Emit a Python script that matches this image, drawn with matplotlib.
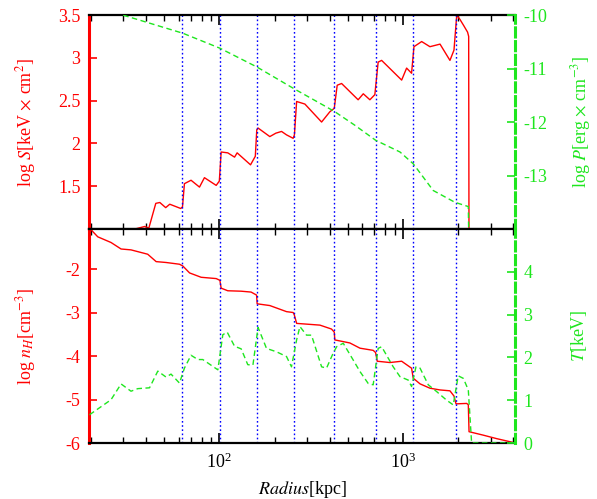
# libraries
import matplotlib
matplotlib.use('Agg')
import matplotlib.pyplot as plt
import numpy as np
from matplotlib.ticker import LogLocator, NullFormatter, LogFormatterMathtext

plt.rcParams['font.family'] = 'serif'
plt.rcParams['font.serif'] = ['Liberation Serif', 'DejaVu Serif']
plt.rcParams['mathtext.fontset'] = 'stix'
plt.rcParams['axes.unicode_minus'] = False

red = '#ff0000'
green = '#1ee61e'
blue = '#0000ff'

# shock positions (kpc)
shock_r = [63, 101, 160, 256, 422, 710, 1130, 1935]

# entropy profile: log10(radius/kpc), log S
s_logr = [1.469, 1.540, 1.594, 1.616, 1.654, 1.676, 1.708, 1.730, 1.790, 1.7995,
          1.810, 1.846, 1.892, 1.919, 1.983, 2.000, 2.010, 2.046, 2.083, 2.097,
          2.170, 2.196, 2.204, 2.211, 2.275, 2.308, 2.339, 2.366, 2.402, 2.409,
          2.421, 2.466, 2.557, 2.602, 2.626, 2.642, 2.666, 2.756, 2.784, 2.820,
          2.847, 2.865, 2.884, 2.993, 3.020, 3.047, 3.060, 3.102, 3.147, 3.202,
          3.256, 3.278, 3.293, 3.310, 3.330, 3.352, 3.358, 3.360]
s_val = [0.99, 1.00, 1.03, 1.01, 1.30, 1.31, 1.25, 1.29, 1.24, 1.26,
         1.53, 1.57, 1.49, 1.60, 1.51, 1.56, 1.90, 1.89, 1.84, 1.89,
         1.75, 1.85, 2.16, 2.18, 2.08, 2.12, 2.14, 2.10, 2.06, 2.10,
         2.49, 2.46, 2.25, 2.37, 2.41, 2.68, 2.70, 2.51, 2.58, 2.51,
         2.57, 2.95, 2.97, 2.74, 2.88, 2.82, 3.13, 3.19, 3.13, 3.16,
         2.97, 3.09, 3.50, 3.45, 3.38, 3.30, 3.25, 0.50]

# pressure profile: log10(radius/kpc), log P
p_logr = [1.289, 1.474, 1.801, 2.003, 2.204, 2.408, 2.626, 2.738, 2.851, 2.984,
          3.056, 3.165, 3.283, 3.356, 3.360]
p_val = [-9.8, -10.0, -10.34, -10.62, -10.97, -11.38, -11.80, -12.06, -12.34, -12.56,
         -12.78, -13.28, -13.50, -13.58, -14.5]

# density profile: log10(radius/kpc), log n_H
n_logr = [1.293, 1.338, 1.410, 1.465, 1.519, 1.610, 1.656, 1.710, 1.783, 1.801,
          1.838, 1.901, 1.983, 2.003, 2.010, 2.046, 2.119, 2.173, 2.203, 2.206,
          2.275, 2.366, 2.402, 2.408, 2.421, 2.548, 2.611, 2.626, 2.629, 2.711,
          2.766, 2.838, 2.851, 2.860, 2.929, 2.993, 3.047, 3.056, 3.093, 3.147,
          3.202, 3.256, 3.278, 3.289, 3.347, 3.356, 3.360, 3.438, 3.511, 3.583,
          3.610]
n_val = [-1.06, -1.26, -1.39, -1.54, -1.56, -1.66, -1.83, -1.85, -1.89, -1.93,
         -2.09, -2.19, -2.22, -2.26, -2.44, -2.50, -2.51, -2.53, -2.60, -2.80,
         -2.84, -2.98, -3.00, -3.05, -3.25, -3.29, -3.38, -3.45, -3.63, -3.70,
         -3.82, -3.87, -3.92, -4.12, -4.15, -4.12, -4.28, -4.51, -4.64, -4.74,
         -4.78, -4.80, -4.92, -5.10, -5.09, -5.12, -5.74, -5.82, -5.90, -5.97,
         -6.0]

# temperature profile: log10(radius/kpc), T [keV]
t_logr = [1.293, 1.410, 1.465, 1.519, 1.556, 1.620, 1.665, 1.710, 1.737, 1.783,
          1.810, 1.846, 1.883, 1.910, 1.992, 2.019, 2.043, 2.083, 2.119, 2.155,
          2.183, 2.211, 2.257, 2.312, 2.366, 2.393, 2.421, 2.439, 2.475, 2.502,
          2.557, 2.584, 2.620, 2.639, 2.675, 2.729, 2.766, 2.811, 2.838, 2.865,
          2.884, 2.947, 2.984, 3.029, 3.047, 3.071, 3.093, 3.138, 3.184, 3.238,
          3.274, 3.301, 3.329, 3.356, 3.374, 3.610]
t_val = [0.66, 1.01, 1.38, 1.21, 1.27, 1.29, 1.68, 1.54, 1.61, 1.40,
         1.75, 2.05, 1.95, 1.95, 1.71, 2.53, 2.59, 2.26, 2.20, 1.83,
         1.82, 2.70, 2.21, 2.13, 2.02, 1.78, 2.41, 2.72, 2.52, 2.52,
         1.78, 1.75, 2.10, 2.25, 2.33, 1.94, 1.67, 1.39, 1.36, 2.21,
         2.25, 1.78, 1.55, 1.47, 1.32, 1.78, 1.75, 1.36, 1.20, 1.00,
         0.89, 1.57, 1.51, 1.24, 0.0, 0.0]

xmin, xmax = 19.5, 4075

fig = plt.figure(figsize=(5.97, 4.99), dpi=100)
ax1 = fig.add_axes([0.149, 0.541, 0.7136, 0.4289])
ax3 = fig.add_axes([0.149, 0.1122, 0.7136, 0.4289])
ax2 = ax1.twinx()
ax4 = ax3.twinx()

# top panel
ax1.plot(10 ** np.array(s_logr), s_val, color=red, lw=1.0)
ax2.plot(10 ** np.array(p_logr), p_val, color=green, lw=1.0, ls=(0, (4, 2.5)))
# bottom panel
ax3.plot(10 ** np.array(n_logr), n_val, color=red, lw=1.0)
ax4.plot(10 ** np.array(t_logr), t_val, color=green, lw=1.0, ls=(0, (4, 2.5)))

for ax in (ax1, ax3):
    for r in shock_r:
        ax.axvline(r, color=blue, lw=1.0, ls=(0, (1.2, 1.8)))

ax1.set_ylim(1.0, 3.5)
ax2.set_ylim(-14, -10)
ax3.set_ylim(-6, -1.08)
ax4.set_ylim(0, 5)
for ax in (ax1, ax2, ax3, ax4):
    ax.set_xscale('log')
    ax.set_xlim(xmin, xmax)

ax1.set_yticks([1.5, 2, 2.5, 3, 3.5])
ax1.set_yticklabels(['1.5', '2', '2.5', '3', '3.5'])
ax2.set_yticks([-10, -11, -12, -13])
ax2.set_yticklabels(['-10', '-11', '-12', '-13'])
ax3.set_yticks([-2, -3, -4, -5, -6])
ax3.set_yticklabels(['-2', '-3', '-4', '-5', '-6'])
ax4.set_yticks([0, 1, 2, 3, 4])
ax4.set_yticklabels(['0', '1', '2', '3', '4'])

for ax in (ax1, ax3):
    ax.xaxis.set_major_locator(LogLocator(base=10))
    ax.xaxis.set_minor_locator(LogLocator(base=10, subs=np.arange(2, 10)))
    ax.xaxis.set_minor_formatter(NullFormatter())
    ax.tick_params(axis='x', which='major', direction='in', top=True, bottom=True,
                   length=7, width=1.2, labelsize=13, pad=7)
    ax.tick_params(axis='x', which='minor', direction='in', top=True, bottom=True,
                   length=4.5, width=1.0)
    ax.tick_params(axis='y', direction='in', colors=red, length=6, width=1.2,
                   labelsize=13, pad=6)
    ax.spines['left'].set_color(red)
    ax.spines['left'].set_linewidth(2.2)
    ax.spines['top'].set_linewidth(1.6)
    ax.spines['bottom'].set_linewidth(1.6)
    ax.spines['right'].set_visible(False)
ax1.tick_params(axis='x', labelbottom=False)
ax3.xaxis.set_major_formatter(LogFormatterMathtext())

for ax in (ax2, ax4):
    ax.tick_params(axis='y', direction='in', colors=green, length=6, width=1.2,
                   labelsize=13, pad=6)
    ax.spines['right'].set_color(green)
    ax.spines['right'].set_linewidth(2.2)
    ax.spines['right'].set_linestyle((0, (3, 1.5)))
    for s in ('left', 'top', 'bottom'):
        ax.spines[s].set_visible(False)

ax1.set_ylabel('log $S$[keV $\\times$ cm$^2$]', color=red, fontsize=13)
ax2.set_ylabel('log $P$[erg $\\times$ cm$^{-3}$]', color=green, fontsize=13)
ax3.set_ylabel('log $n_H$[cm$^{-3}$]', color=red, fontsize=13)
ax4.set_ylabel('$T$[keV]', color=green, fontsize=13)
ax3.set_xlabel('$Radius$[kpc]', fontsize=13)

ax1.yaxis.set_label_coords(-0.12, 0.5)
ax3.yaxis.set_label_coords(-0.12, 0.5)
ax2.yaxis.set_label_coords(1.127, 0.5)
ax4.yaxis.set_label_coords(1.127, 0.5)
ax3.xaxis.set_label_coords(0.5, -0.17)

fig.savefig('out.png', dpi=100)
